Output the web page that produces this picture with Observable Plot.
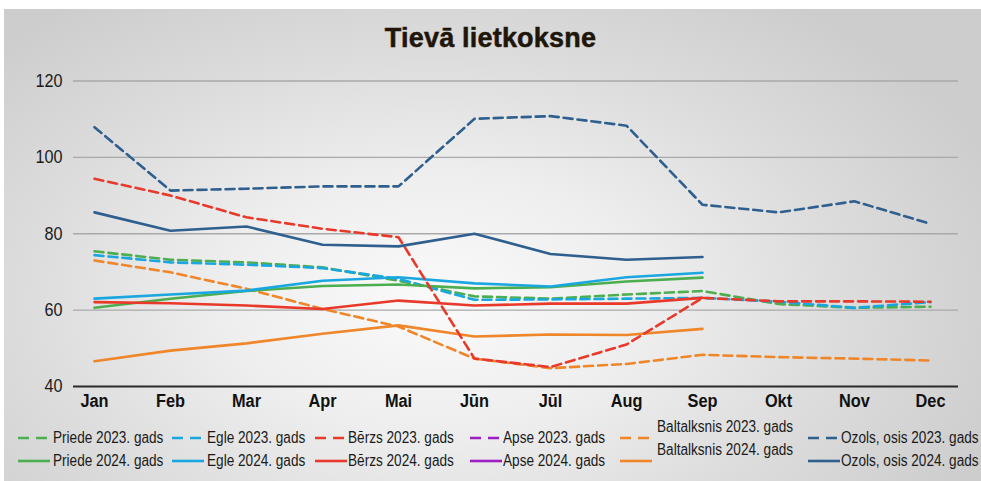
<!DOCTYPE html>
<html>
<head>
<meta charset="utf-8">
<script src="https://cdn.jsdelivr.net/npm/d3@7"></script>
<script src="https://cdn.jsdelivr.net/npm/@observablehq/plot@0.6"></script>
<style>
  html, body { margin: 0; padding: 0; background: #fff; }
  #wrap { position: relative; width: 981px; height: 481px; overflow: hidden; background: #fff;
    font-family: "Liberation Sans", Arial, sans-serif; }
  #panel { position: absolute; left: 4px; top: 9px; width: 977px; height: 472px;
    background: radial-gradient(ellipse 62% 78% at 44% 62%, #fafafa 0%, #eeeeee 35%, #dcdcdc 68%, #cdcdcd 100%); }
  #title { position: absolute; left: 0; width: 981px; top: 25px; text-align: center; line-height: 27px;
    font-size: 27px; font-weight: bold; color: #1e1609; letter-spacing: 0.2px; -webkit-text-stroke: 0.5px #1e1609; }
  #chart { position: absolute; left: 0; top: 0; }
  .sw { position: absolute; }
  .lt { position: absolute; font-size: 16px; color: #1a1a1a; white-space: nowrap; line-height: 18px;
    transform: scaleX(0.85); transform-origin: 0 50%; }
</style>
</head>
<body>
<div id="wrap">
  <div id="panel"></div>
  <div id="title">Tievā lietkoksne</div>
  <div id="chart"></div>
  <div id="legend"></div>
</div>
<script>
const months = ["Jan","Feb","Mar","Apr","Mai","Jūn","Jūl","Aug","Sep","Okt","Nov","Dec"];
const yTicks = [40, 60, 80, 100, 120];

const priede2023 = [75.4, 73.2, 72.5, 71.2, 67.7, 63.6, 63.0, 64.1, 65.0, 61.6, 60.6, 60.9];
const priede2024 = [60.6, 63.0, 65.0, 66.3, 66.7, 65.7, 66.0, 67.5, 68.5];
const egle2023 = [74.4, 72.5, 71.9, 71.0, 68.2, 62.7, 62.8, 63.0, 63.2, 62.2, 60.6, 62.1];
const egle2024 = [63.0, 64.1, 65.1, 67.7, 68.6, 67.0, 66.2, 68.6, 69.8];
const berzs2023 = [94.4, 90.0, 84.3, 81.3, 79.1, 47.3, 45.1, 51.0, 63.2, 62.3, 62.3, 62.2];
const berzs2024 = [62.1, 61.8, 61.2, 60.3, 62.5, 61.2, 61.7, 61.7, 63.2];
const apse2023 = [];
const apse2024 = [];
const baltalksnis2023 = [73.0, 69.9, 65.6, 60.3, 55.7, 47.3, 44.8, 45.9, 48.3, 47.7, 47.3, 46.8];
const baltalksnis2024 = [46.6, 49.4, 51.3, 53.8, 56.0, 53.1, 53.6, 53.5, 55.1];
const ozols2023 = [107.9, 91.3, 91.8, 92.4, 92.4, 110.1, 110.8, 108.3, 87.6, 85.6, 88.5, 82.6];
const ozols2024 = [85.6, 80.8, 81.9, 77.1, 76.7, 80.0, 74.7, 73.2, 73.9];

const seriesNames = [
  "Priede 2023. gads", "Egle 2023. gads", "Bērzs 2023. gads", "Apse 2023. gads", "Baltalksnis 2023. gads", "Ozols, osis 2023. gads",
  "Priede 2024. gads", "Egle 2024. gads", "Bērzs 2024. gads", "Apse 2024. gads", "Baltalksnis 2024. gads", "Ozols, osis 2024. gads"
];
const seriesValues = [priede2023, egle2023, berzs2023, apse2023, baltalksnis2023, ozols2023,
                      priede2024, egle2024, berzs2024, apse2024, baltalksnis2024, ozols2024];
const seriesColors = ["#4cae4f", "#1aa7e0", "#e8392b", "#9b1fc4", "#f0862a", "#2f5f8e",
                      "#4cae4f", "#1aa7e0", "#e8392b", "#9b1fc4", "#f0862a", "#2f5f8e"];
const seriesDashed = [true, true, true, true, true, true, false, false, false, false, false, false];

const rows = [];
seriesNames.forEach((name, i) => {
  seriesValues[i].forEach((v, j) => rows.push({series: name, month: months[j], value: v, idx: i}));
});

const marks = [
  Plot.ruleY(yTicks.filter(t => t > 40), {stroke: "#a9a9a9", strokeWidth: 1.3}),
];
const drawOrder = [4, 10, 0, 1, 6, 7, 2, 8, 3, 9, 5, 11];
drawOrder.forEach(i => {
  const data = rows.filter(r => r.idx === i);
  if (!data.length) return;
  marks.push(Plot.line(data, {
    x: "month", y: "value",
    stroke: seriesColors[i], strokeWidth: 2.6,
    strokeDasharray: seriesDashed[i] ? "9,5" : null,
    strokeLinejoin: "round"
  }));
});
marks.push(Plot.ruleY([40], {stroke: "#2a2a2a", strokeWidth: 2}));

const chart = Plot.plot({
  width: 981,
  height: 412,
  marginTop: 80.5,
  marginBottom: 26,
  marginLeft: 73,
  marginRight: 23,
  style: {background: "transparent", overflow: "visible", fontFamily: "'Liberation Sans', Arial, sans-serif"},
  x: {type: "point", domain: months, padding: 0, insetLeft: 19, insetRight: 26, label: null},
  y: {domain: [40, 120], label: null},
  axis: null,
  marks: [
    ...marks,
    Plot.axisX({tickSize: 0, tickPadding: 7, fontSize: 19, fontWeight: "bold", label: null, fill: "#111"}),
    Plot.axisY(yTicks, {tickSize: 0, tickPadding: 11, fontSize: 18, label: null, fill: "#1a1a1a"})
  ]
});
chart.querySelectorAll("text").forEach(t => {
  const g = t.closest("g[aria-label]");
  if (!g) return;
  const lab = g.getAttribute("aria-label");
  if (lab === "x-axis tick label" || lab === "y-axis tick label") {
    const tr = t.getAttribute("transform") || "";
    t.setAttribute("transform", tr + (lab === "x-axis tick label" ? " scale(0.86,1)" : " scale(0.9,1)"));
    if (lab === "x-axis tick label") t.setAttribute("font-weight", "bold");
  }
});
document.getElementById("chart").appendChild(chart);

// legend
const swX = [18, 172, 315, 470, 620, 808];
const txX = [53, 207, 348, 503, 657, 841];
const rowY = [438, 461];
const legend = document.getElementById("legend");
seriesNames.forEach((name, i) => {
  const col = i % 6, row = Math.floor(i / 6);
  const sw = document.createElement("div");
  sw.className = "sw";
  sw.style.left = swX[col] + "px";
  sw.style.top = (rowY[row] - 9) + "px";
  sw.innerHTML = `<svg width="34" height="18"><line x1="0" x2="32" y1="9" y2="9" stroke="${seriesColors[i]}" stroke-width="2.6" ${seriesDashed[i] ? 'stroke-dasharray="11,7"' : ''}/></svg>`;
  legend.appendChild(sw);
  const t = document.createElement("div");
  t.className = "lt";
  let ty = rowY[row] - 9;
  if (col === 4) ty = (row === 0 ? 427 : 450) - 9;
  t.style.left = txX[col] + "px";
  t.style.top = ty + "px";
  t.textContent = name;
  legend.appendChild(t);
});
</script>
</body>
</html>
